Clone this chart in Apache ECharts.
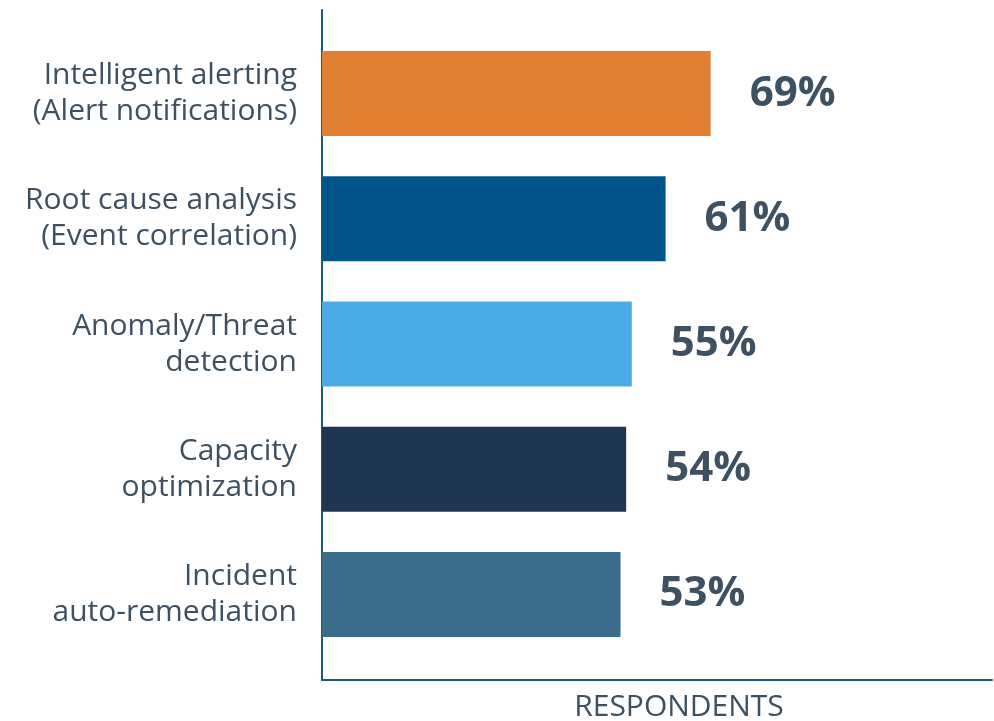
<!DOCTYPE html>
<html>
<head>
<meta charset="utf-8">
<script src="https://cdn.jsdelivr.net/npm/echarts@6/dist/echarts.min.js"></script>
<style>
html,body{margin:0;padding:0;background:#fff;}
#chart{width:994px;height:721px;}
</style>
</head>
<body>
<div id="chart"></div>
<script>
const categories = [
  "Intelligent alerting\n(Alert notifications)",
  "Root cause analysis\n(Event correlation)",
  "Anomaly/Threat\ndetection",
  "Capacity\noptimization",
  "Incident\nauto-remediation"
];
const values = [69, 61, 55, 54, 53];
const barColors = ["#E07E31", "#00548C", "#4AABE6", "#1F3653", "#3A6D8C"];
const axisTitle = "RESPONDENTS";

const textColor = "#3E5163";
const chart = echarts.init(document.getElementById('chart'), null, {renderer: 'canvas'});
chart.setOption({
  animation: false,
  backgroundColor: '#ffffff',
  grid: [
    {left: 322, right: 4, top: 31, bottom: 64, containLabel: false, outerBoundsMode: 'none'},
    {left: 322, right: 2, top: 10, bottom: 41, containLabel: false, outerBoundsMode: 'none'}
  ],
  xAxis: [
    {type: 'value', gridIndex: 0, min: 0, max: 118.6, show: false},
    {type: 'value', gridIndex: 1, min: 0, max: 1,
     axisLine: {show: true, lineStyle: {color: '#155B92', width: 2}},
     axisTick: {show: false}, axisLabel: {show: false}, splitLine: {show: false},
     name: axisTitle, nameLocation: 'middle', nameGap: 12,
     nameTextStyle: {fontFamily: 'Open Sans', fontSize: 30, color: textColor, padding: [0, 0, 0, 44]}}
  ],
  yAxis: [
    {type: 'category', gridIndex: 0, data: categories, inverse: true,
     axisLine: {show: false}, axisTick: {show: false}, splitLine: {show: false},
     axisLabel: {fontFamily: 'Open Sans', fontSize: 30, lineHeight: 36, color: textColor, margin: 25, align: 'right'}},
    {type: 'value', gridIndex: 1, min: 0, max: 1,
     axisLine: {show: true, lineStyle: {color: '#155B92', width: 2}},
     axisTick: {show: false}, axisLabel: {show: false}, splitLine: {show: false}}
  ],
  series: [{
    type: 'bar',
    xAxisIndex: 0, yAxisIndex: 0,
    barWidth: 85,
    data: values.map((v, i) => ({value: v, itemStyle: {color: barColors[i]}})),
    label: {
      show: true, position: 'right', distance: 39,
      formatter: '{c}%',
      fontFamily: 'Open Sans', fontWeight: 'bold', fontSize: 42, color: textColor
    }
  }]
});
</script>
</body>
</html>
